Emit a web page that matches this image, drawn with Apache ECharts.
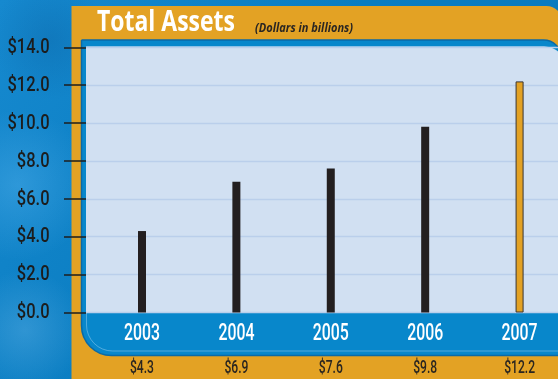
<!DOCTYPE html>
<html>
<head>
<meta charset="utf-8">
<script src="https://cdn.jsdelivr.net/npm/echarts@6/dist/echarts.min.js"></script>
<style>
  html, body { margin: 0; padding: 0; background: #0b7fc3; }
  #chart { width: 558px; height: 379px; }
</style>
</head>
<body>
<div id="chart"></div>
<script>
// Total assets by fiscal year, in billions of dollars
const years = ['2003', '2004', '2005', '2006', '2007'];
const assets = [4.3, 6.9, 7.6, 9.8, 12.2];
const yTicks = [0, 2, 4, 6, 8, 10, 12, 14];

const ORANGE = '#e3a224';
const DARK = '#231f20';
const BLUE = '#0887cb';
const PLOT = '#d1e0f2';
const LABEL_FONT = "'Roboto', 'Open Sans', sans-serif";

const chart = echarts.init(document.getElementById('chart'), null, { renderer: 'canvas' });
const lastIdx = years.length - 1;
const money = v => '$' + v.toFixed(1);

// horizontal squeeze factor so a string set in `font` spans `width` pixels
const measureCtx = document.createElement('canvas').getContext('2d');
function squeeze(text, font, width) {
  measureCtx.font = font;
  return width / measureCtx.measureText(text).width;
}

function label(text, x, y, font, fill, sx, align) {
  return {
    type: 'text', z: 20, x: x, y: y, scaleX: sx,
    style: { text: text, x: 0, y: 0, font: font, fill: fill,
             align: align || 'center', verticalAlign: 'middle' },
    silent: true
  };
}

// frame, panels and title
const frame = [
  { type: 'circle', z: -10, shape: { cx: 18, cy: 185, r: 75 },
    style: { fill: { type: 'radial', x: 0.5, y: 0.5, r: 0.5,
      colorStops: [{ offset: 0, color: 'rgba(80,175,235,0.45)' }, { offset: 1, color: 'rgba(80,175,235,0)' }] } } },
  { type: 'circle', z: -10, shape: { cx: 25, cy: 330, r: 60 },
    style: { fill: { type: 'radial', x: 0.5, y: 0.5, r: 0.5,
      colorStops: [{ offset: 0, color: 'rgba(110,185,235,0.35)' }, { offset: 1, color: 'rgba(110,185,235,0)' }] } } },
  { type: 'circle', z: -10, shape: { cx: 50, cy: 40, r: 60 },
    style: { fill: { type: 'radial', x: 0.5, y: 0.5, r: 0.5,
      colorStops: [{ offset: 0, color: 'rgba(10,95,160,0.35)' }, { offset: 1, color: 'rgba(10,95,160,0)' }] } } },
  // orange frame
  { type: 'rect', z: -9, shape: { x: 71.5, y: 6, width: 491, height: 420, r: [0, 16, 0, 46] },
    style: { fill: ORANGE } },
  // inner blue panel, which also carries the year row
  { type: 'rect', z: -8, shape: { x: 81.5, y: 40, width: 480, height: 315.5, r: [0, 18, 0, 30] },
    style: { fill: BLUE, stroke: '#0b6aa6', lineWidth: 1.5 } },
  // faint inner highlight around the year row
  { type: 'rect', z: -7, shape: { x: 86.5, y: 47, width: 480, height: 304, r: [0, 22, 0, 26] },
    style: { fill: 'none', stroke: 'rgba(170,215,245,0.45)', lineWidth: 1 } },
  // light plotting field
  { type: 'rect', z: -6, shape: { x: 86, y: 46.5, width: 480, height: 266, r: [0, 22, 0, 0] },
    style: { fill: PLOT } }
];

chart.setOption({
  animation: false,
  backgroundColor: {
    type: 'linear', x: 0, y: 0, x2: 1, y2: 1,
    colorStops: [
      { offset: 0, color: '#1689cf' },
      { offset: 0.45, color: '#0a7dc1' },
      { offset: 1, color: '#0a78bb' }
    ]
  },
  grid: { left: 86, right: 0, top: 47.3, bottom: 379 - 312.5, outerBoundsMode: 'none', containLabel: false },
  // years sit at positions 0..4 on a numeric axis so the field can start left of the first half-slot
  xAxis: {
    type: 'value',
    min: -0.593,
    max: 4.407,
    axisLine: { show: false, onZero: false },
    axisTick: { show: false },
    splitLine: { show: false },
    axisLabel: { show: false }
  },
  yAxis: {
    type: 'value',
    min: yTicks[0],
    max: yTicks[yTicks.length - 1],
    interval: 2,
    axisLine: { show: false, onZero: false },
    axisTick: { show: true, inside: false, length: 22, lineStyle: { color: '#1e1e1e', width: 1.5 } },
    splitLine: { show: true, lineStyle: { color: '#bacfeb', width: 1.3 } },
    axisLabel: { show: false }
  },
  series: [{
    type: 'bar',
    barWidth: 8,
    data: assets.map((v, i) => i === lastIdx
      ? { value: [i, v], itemStyle: { color: ORANGE, borderColor: '#3a3430', borderWidth: 1 } }
      : { value: [i, v], itemStyle: { color: DARK } })
  }]
});

// tick labels placed through the chart's own axes
const yearFont = '500 24px ' + LABEL_FONT;
const valueFont = '500 18px ' + LABEL_FONT;
const yFont = '500 21px ' + LABEL_FONT;
const titleFont = "bold 28px 'Open Sans', 'Lato', sans-serif";
const subFont = "italic bold 13px 'Open Sans', 'Lato', sans-serif";

const yearSx = squeeze(years[0], yearFont, 36);
const valueSx = squeeze(money(assets[0]), valueFont, 24);
const ySx = squeeze(money(yTicks[yTicks.length - 1]), yFont, 42);

const labels = [];
years.forEach((yr, i) => {
  const x = chart.convertToPixel({ xAxisIndex: 0 }, i);
  labels.push(label(yr, x, 333.5, yearFont, '#ffffff', yearSx));
  labels.push(label(money(assets[i]), x, 368, valueFont, '#2b2620', valueSx));
});
yTicks.forEach(v => {
  const y = chart.convertToPixel({ yAxisIndex: 0 }, v);
  labels.push(label(money(v), 49.5, y + 0.5, yFont, '#1c1c1c', ySx, 'right'));
});
labels.push(label('Total Assets', 97, 23.5, titleFont, '#ffffff',
  squeeze('Total Assets', titleFont, 138), 'left'));
labels.push(label('(Dollars in billions)', 255, 28, subFont, '#2a2622',
  squeeze('(Dollars in billions)', subFont, 98), 'left'));

chart.setOption({ graphic: frame.concat(labels) });
</script>
</body>
</html>
